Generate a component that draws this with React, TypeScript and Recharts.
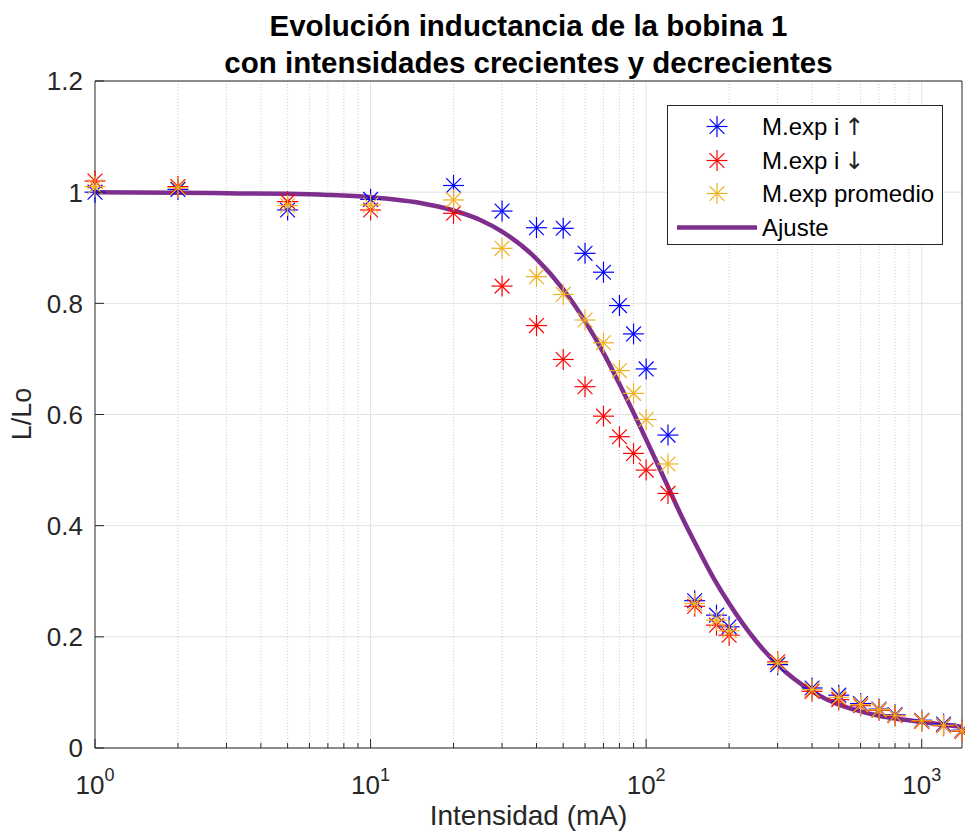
import React from "react";
import {
    ComposedChart,
    Scatter,
    Line,
    XAxis,
    YAxis,
    CartesianGrid,
    ReferenceLine,
} from "recharts";

// Intensidad (mA) de las medidas
const corriente = [1, 2, 5, 10, 20, 30, 40, 50, 60, 70, 80, 90, 100, 120, 150, 180, 200, 300, 400, 500, 600, 700, 800, 1000, 1200, 1400];
// L/Lo con intensidad creciente
const subida = [1.0, 1.005, 0.968, 0.987, 1.012, 0.966, 0.936, 0.935, 0.89, 0.856, 0.796, 0.745, 0.682, 0.563, 0.265, 0.239, 0.218, 0.15, 0.108, 0.095, 0.08, 0.07, 0.06, 0.05, 0.043, 0.032];
// L/Lo con intensidad decreciente
const bajada = [1.02, 1.01, 0.983, 0.968, 0.962, 0.831, 0.76, 0.699, 0.65, 0.597, 0.56, 0.53, 0.5, 0.458, 0.255, 0.221, 0.203, 0.155, 0.102, 0.087, 0.076, 0.068, 0.058, 0.048, 0.04, 0.03];
// promedio de ambas
const promedio = [1.01, 1.008, 0.976, 0.977, 0.986, 0.899, 0.848, 0.816, 0.77, 0.729, 0.679, 0.638, 0.591, 0.511, 0.26, 0.23, 0.211, 0.153, 0.105, 0.091, 0.078, 0.069, 0.059, 0.049, 0.041, 0.031];

// curva de ajuste
const ajusteX = [1, 2, 3, 5, 7, 10, 15, 20, 25, 30, 40, 50, 60, 70, 80, 90, 100, 110, 120, 135, 150, 175, 200, 250, 300, 400, 500, 600, 700, 800, 1000, 1200, 1400];
const ajusteY = [1.0, 0.999, 0.998, 0.997, 0.995, 0.991, 0.981, 0.967, 0.95, 0.929, 0.88, 0.825, 0.768, 0.711, 0.655, 0.603, 0.555, 0.511, 0.47, 0.415, 0.37, 0.307, 0.26, 0.193, 0.15, 0.102, 0.078, 0.066, 0.058, 0.053, 0.047, 0.042, 0.038];

const xMayores = [1, 10, 100, 1000];
const xMenores = [2, 3, 4, 5, 6, 7, 8, 9, 20, 30, 40, 50, 60, 70, 80, 90, 200, 300, 400, 500, 600, 700, 800, 900];
const yTicks = [0, 0.2, 0.4, 0.6, 0.8, 1, 1.2];

const FONT = "'Liberation Sans', Arial, Helvetica, sans-serif";
const EJE = "#262626";

const AZUL = "#0000ff";
const ROJO = "#ff0000";
const AMARILLO = "#edb120";
const MORADO = "#7e2f8e";

const toPoints = (ys: number[], xs: number[]) => xs.map((x, i) => ({ x, y: ys[i] }));

const xTodos = [...xMayores, ...xMenores].sort((a, b) => a - b);

function Asterisco({ cx, cy, color }: any) {
    if (cx == null || cy == null) return null;
    const r = 10.5;
    const d = 7.4;
    return (
        <g stroke={color} strokeWidth={1.2}>
            <line x1={cx - r} y1={cy} x2={cx + r} y2={cy} />
            <line x1={cx} y1={cy - r} x2={cx} y2={cy + r} />
            <line x1={cx - d} y1={cy - d} x2={cx + d} y2={cy + d} />
            <line x1={cx - d} y1={cy + d} x2={cx + d} y2={cy - d} />
        </g>
    );
}

const XTickAbajo = ({ x, y, payload }: any) => {
    const v = payload.value;
    const mayor = xMayores.includes(v);
    const exp = Math.round(Math.log10(v));
    return (
        <g>
            <line x1={x} x2={x} y1={y} y2={y - (mayor ? 9 : 5)} stroke={EJE} />
            {mayor && (
                <text x={x} y={y + 46} textAnchor="middle" fill={EJE} fontSize={26} fontFamily={FONT}>
                    <tspan>10</tspan>
                    <tspan dy={-13} fontSize={18}>{exp}</tspan>
                </text>
            )}
        </g>
    );
};

const XTickArriba = ({ x, y, payload }: any) => {
    const mayor = xMayores.includes(payload.value);
    return <line x1={x} x2={x} y1={y} y2={y + (mayor ? 9 : 5)} stroke={EJE} />;
};

const YTickIzq = ({ x, y, payload }: any) => (
    <g>
        <line x1={x} x2={x + 9} y1={y} y2={y} stroke={EJE} />
        <text x={x - 12} y={y} dy="0.36em" textAnchor="end" fill={EJE} fontSize={26} fontFamily={FONT}>
            {String(payload.value)}
        </text>
    </g>
);

const YTickDer = ({ x, y }: any) => <line x1={x} x2={x - 9} y1={y} y2={y} stroke={EJE} />;

const leyenda = [
    { nombre: "M.exp i", flecha: "\u2191", color: AZUL, tipo: "marca" },
    { nombre: "M.exp i", flecha: "\u2193", color: ROJO, tipo: "marca" },
    { nombre: "M.exp promedio", flecha: "", color: AMARILLO, tipo: "marca" },
    { nombre: "Ajuste", flecha: "", color: MORADO, tipo: "linea" },
];

function Leyenda() {
    return (
        <div
            style={{
                position: "absolute",
                left: 667,
                top: 105,
                width: 274,
                height: 138,
                border: `1px solid ${EJE}`,
                background: "#fff",
                fontFamily: FONT,
            }}
        >
            {leyenda.map((e, i) => (
                <div key={i} style={{ position: "absolute", left: 0, top: 4 + i * 33.7, height: 33, width: 274 }}>
                    <svg width={95} height={33} style={{ position: "absolute", left: 0, top: 0 }}>
                        {e.tipo === "marca" ? (
                            <Asterisco cx={49} cy={16.5} color={e.color} />
                        ) : (
                            <line x1={9} x2={89} y1={16.5} y2={16.5} stroke={e.color} strokeWidth={4.5} />
                        )}
                    </svg>
                    <span style={{ position: "absolute", left: 94, top: 0, lineHeight: "33px", fontSize: 24, color: "#000", whiteSpace: "nowrap" }}>
                        {e.nombre}
                        {e.flecha && (
                            <span style={{ fontFamily: "'DejaVu Sans', sans-serif", fontSize: 24, color: "#222", marginLeft: 5 }}>
                                {e.flecha}
                            </span>
                        )}
                    </span>
                </div>
            ))}
        </div>
    );
}

export default function App() {
    return (
        <div style={{ position: "absolute", left: 0, top: 0, width: 965, height: 834, background: "#fff", fontFamily: FONT, overflow: "hidden" }}>
            <div
                style={{
                    position: "absolute",
                    left: 95,
                    width: 867,
                    top: 7,
                    textAlign: "center",
                    fontWeight: "bold",
                    fontSize: 29.5,
                    lineHeight: "37px",
                    color: "#000",
                }}
            >
                Evolución inductancia de la bobina 1
                <br />
                con intensidades crecientes y decrecientes
            </div>
            <ComposedChart
                width={965}
                height={834}
                margin={{ top: 71, right: 1, bottom: 46, left: 0 }}
                style={{ position: "absolute", left: 0, top: 0 }}
            >
                <CartesianGrid xAxisId="b" yAxisId="l" vertical={false} stroke="#e3e3e3" />
                {xMenores.map((v) => (
                    <ReferenceLine key={"m" + v} x={v} xAxisId="b" yAxisId="l" stroke="#cdcdcd" strokeDasharray="1 2" />
                ))}
                {xMayores.slice(1).map((v) => (
                    <ReferenceLine key={"M" + v} x={v} xAxisId="b" yAxisId="l" stroke="#e3e3e3" />
                ))}
                <XAxis
                    xAxisId="b"
                    dataKey="x"
                    type="number"
                    scale="log"
                    domain={[1, 1400]}
                    ticks={xTodos}
                    interval={0}
                    height={40}
                    tickSize={0}
                    tickMargin={0}
                    tickLine={false}
                    axisLine={{ stroke: EJE }}
                    tick={<XTickAbajo />}
                />
                <XAxis
                    xAxisId="t"
                    orientation="top"
                    dataKey="x"
                    type="number"
                    scale="log"
                    domain={[1, 1400]}
                    ticks={xTodos}
                    interval={0}
                    height={10}
                    tickSize={0}
                    tickMargin={0}
                    tickLine={false}
                    axisLine={{ stroke: EJE }}
                    tick={<XTickArriba />}
                />
                <YAxis
                    yAxisId="l"
                    dataKey="y"
                    type="number"
                    domain={[0, 1.2]}
                    ticks={yTicks}
                    interval={0}
                    width={95}
                    tickSize={0}
                    tickMargin={0}
                    tickLine={false}
                    axisLine={{ stroke: EJE }}
                    tick={<YTickIzq />}
                />
                <YAxis
                    yAxisId="r"
                    orientation="right"
                    dataKey="y"
                    type="number"
                    domain={[0, 1.2]}
                    ticks={yTicks}
                    interval={0}
                    width={2}
                    tickSize={0}
                    tickMargin={0}
                    tickLine={false}
                    axisLine={{ stroke: EJE }}
                    tick={<YTickDer />}
                />
                <Scatter
                    xAxisId="b"
                    yAxisId="l"
                    data={toPoints(subida, corriente)}
                    dataKey="y"
                    shape={(p: any) => <Asterisco cx={p.cx} cy={p.cy} color={AZUL} />}
                    isAnimationActive={false}
                />
                <Scatter
                    xAxisId="b"
                    yAxisId="l"
                    data={toPoints(bajada, corriente)}
                    dataKey="y"
                    shape={(p: any) => <Asterisco cx={p.cx} cy={p.cy} color={ROJO} />}
                    isAnimationActive={false}
                />
                <Scatter
                    xAxisId="b"
                    yAxisId="l"
                    data={toPoints(promedio, corriente)}
                    dataKey="y"
                    shape={(p: any) => <Asterisco cx={p.cx} cy={p.cy} color={AMARILLO} />}
                    isAnimationActive={false}
                />
                <Line
                    xAxisId="b"
                    yAxisId="l"
                    data={toPoints(ajusteY, ajusteX)}
                    dataKey="y"
                    type="monotone"
                    stroke={MORADO}
                    strokeWidth={4.5}
                    dot={false}
                    activeDot={false}
                    isAnimationActive={false}
                />
            </ComposedChart>
            <Leyenda />
            <div
                style={{
                    position: "absolute",
                    left: 95,
                    width: 867,
                    top: 800,
                    textAlign: "center",
                    fontSize: 28,
                    lineHeight: "32px",
                    color: EJE,
                }}
            >
                Intensidad (mA)
            </div>
            <div
                style={{
                    position: "absolute",
                    left: 22 - 60,
                    top: 414 - 16,
                    width: 120,
                    height: 32,
                    lineHeight: "32px",
                    textAlign: "center",
                    fontSize: 27,
                    color: EJE,
                    transform: "rotate(-90deg)",
                }}
            >
                L/Lo
            </div>
        </div>
    );
}
